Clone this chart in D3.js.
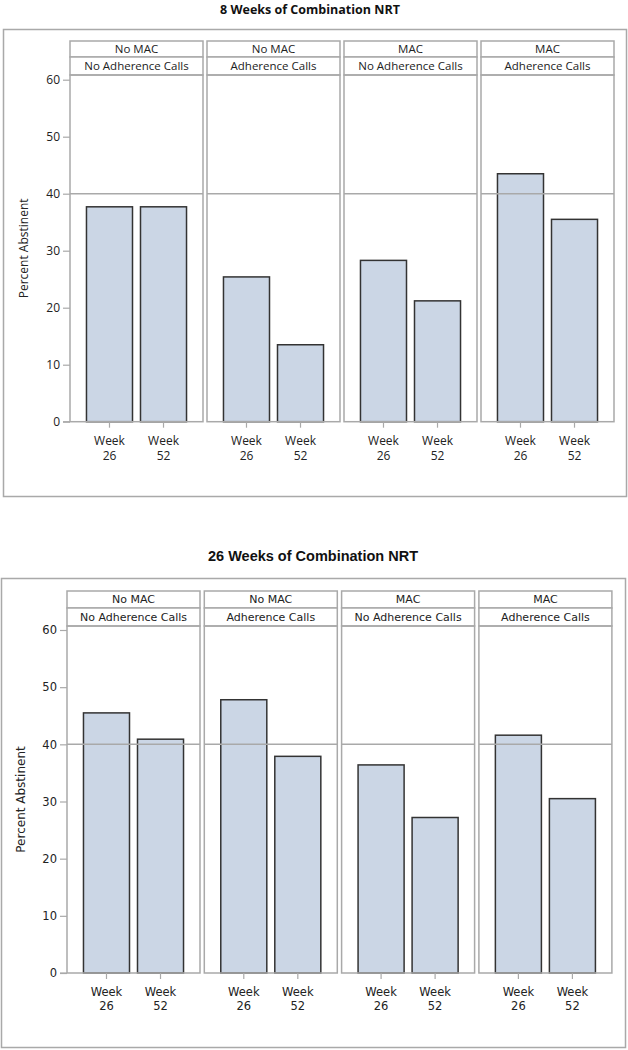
<!DOCTYPE html>
<html><head><meta charset="utf-8">
<script src="https://cdn.jsdelivr.net/npm/d3@7"></script>
<style>body{margin:0;background:#fff}svg{display:block}</style>
</head><body>
<svg id="c" width="628" height="1050"></svg>
<script>
// ---- data ----
const chartTitles = ["8 Weeks of Combination NRT", "26 Weeks of Combination NRT"];
const stripRow1 = ["No MAC", "No MAC", "MAC", "MAC"];
const stripRow2 = ["No Adherence Calls", "Adherence Calls", "No Adherence Calls", "Adherence Calls"];
const weeks = ["Week 26", "Week 52"];
const yTicks = [0, 10, 20, 30, 40, 50, 60];
const refValue = 40;
const yLabel = "Percent Abstinent";
const values8wk = [[37.7, 37.7], [25.4, 13.5], [28.3, 21.2], [43.5, 35.5]];
const values26wk = [[45.5, 40.9], [47.8, 37.9], [36.4, 27.2], [41.6, 30.5]];

// ---- layout ----
const layouts = [
  {title: chartTitles[0], values: values8wk, titleY: 9.5, titleX: 310, box: [3, 29, 623, 467],
   strip1: 41, strip2: 57, plotTop: 75, y0: 421.7, y60: 79.7, px0: 70, pw: 133, gap: 4,
   yTitleX: 24, font: "'Open Sans', sans-serif", titleFont: "'Open Sans', sans-serif", titleSize: 12.5,
   stripSize: 11.5, tickSize: 12},
  {title: chartTitles[1], values: values26wk, titleY: 556, titleX: 313, box: [1, 578, 624, 469],
   strip1: 591, strip2: 608, plotTop: 626, y0: 973, y60: 630, px0: 67, pw: 133, gap: 4.3,
   yTitleX: 21, font: "'DejaVu Sans', sans-serif", titleFont: "'Liberation Sans', Arial, sans-serif", titleSize: 14.5,
   stripSize: 11, tickSize: 11.5}
];

const svg = d3.select("#c");
const grey = "#a9a9a9", txt = "#222";

layouts.forEach(L => {
  const g = svg.append("g").style("font-family", L.font);
  g.append("text").attr("x", L.titleX).attr("y", L.titleY).attr("dy", "0.35em")
    .attr("text-anchor", "middle").style("font-family", L.titleFont)
    .style("font-weight", "bold").style("font-size", L.titleSize + "px").attr("fill", "#111").text(L.title);
  g.append("rect").attr("x", L.box[0] + 0.5).attr("y", L.box[1] + 0.5)
    .attr("width", L.box[2]).attr("height", L.box[3])
    .attr("fill", "none").attr("stroke", grey).attr("stroke-width", 1.5);

  const y = d3.scaleLinear().domain([0, 60]).range([L.y0, L.y60]);

  // y axis
  const ya = g.append("g").attr("transform", `translate(${L.px0},0)`)
    .call(d3.axisLeft(y).tickValues(yTicks).tickSize(7).tickPadding(3));
  ya.select(".domain").remove();
  ya.selectAll(".tick line").attr("stroke", grey).attr("stroke-width", 1.2);
  ya.selectAll(".tick text").attr("fill", txt).style("font-size", L.tickSize + "px").style("font-family", L.font);

  g.append("text").attr("transform", `translate(${L.yTitleX},${(L.plotTop + L.y0) / 2}) rotate(-90)`)
    .attr("text-anchor", "middle").attr("dy", "0.35em").attr("fill", txt)
    .style("font-size", "12px").text(yLabel);

  L.values.forEach((vals, i) => {
    const x0 = L.px0 + i * (L.pw + L.gap);
    const pg = g.append("g").attr("transform", `translate(${x0},0)`);
    const x = d3.scaleBand().domain(weeks).range([0, L.pw]).paddingInner(0.148).paddingOuter(0.305);

    // strips
    [[L.strip1, L.strip2 - L.strip1, stripRow1[i]], [L.strip2, L.plotTop - L.strip2, stripRow2[i]]].forEach(s => {
      pg.append("rect").attr("x", 0).attr("y", s[0]).attr("width", L.pw).attr("height", s[1])
        .attr("fill", "#fff").attr("stroke", grey).attr("stroke-width", 1.5);
      pg.append("text").attr("x", L.pw / 2).attr("y", s[0] + s[1] / 2).attr("dy", "0.35em")
        .attr("text-anchor", "middle").attr("fill", txt).style("font-size", L.stripSize + "px").text(s[2]);
    });

    // bars
    pg.selectAll("rect.bar").data(vals).join("rect").attr("class", "bar")
      .attr("x", (d, j) => x(weeks[j])).attr("width", x.bandwidth())
      .attr("y", d => y(d)).attr("height", d => y(0) - y(d))
      .attr("fill", "#cbd6e5").attr("stroke", "#333").attr("stroke-width", 1.5);

    // reference line
    pg.append("line").attr("x1", 0).attr("x2", L.pw).attr("y1", y(refValue)).attr("y2", y(refValue))
      .attr("stroke", grey).attr("stroke-width", 1.5);

    // panel border
    pg.append("rect").attr("x", 0).attr("y", L.plotTop).attr("width", L.pw).attr("height", y(0) - L.plotTop)
      .attr("fill", "none").attr("stroke", grey).attr("stroke-width", 1.5);

    // x axis
    const xa = pg.append("g").attr("transform", `translate(0,${y(0)})`)
      .call(d3.axisBottom(x).tickSize(6).tickPadding(5).tickFormat(""));
    xa.select(".domain").remove();
    xa.selectAll(".tick line").attr("stroke", grey).attr("stroke-width", 1.2);
    xa.selectAll(".tick text").each(function (d) {
      const t = d3.select(this).attr("fill", txt).style("font-size", L.tickSize + "px").style("font-family", L.font);
      const parts = d.split(" ");
      t.text(null);
      parts.forEach((p, k) => t.append("tspan").attr("x", 0).attr("dy", k === 0 ? "1em" : "1.25em").text(p));
    });
  });
  // baseline from y tick to panel
  g.append("line").attr("x1", L.px0 - 7).attr("x2", L.px0).attr("y1", L.y0).attr("y2", L.y0)
    .attr("stroke", grey).attr("stroke-width", 1.2);
});
</script>
</body></html>
